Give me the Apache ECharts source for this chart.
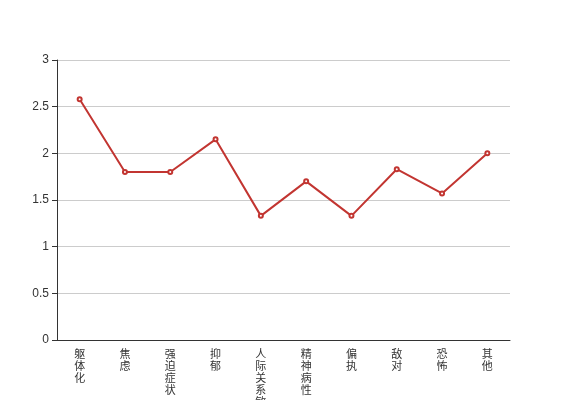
<!DOCTYPE html>
<html><head><meta charset="utf-8">
<script src="https://cdn.jsdelivr.net/npm/echarts@6/dist/echarts.min.js"></script>
<style>html,body{margin:0;padding:0;background:#fff}#c{width:567px;height:400px}</style>
</head><body><div id="c"></div>
<script>
var categories = ['躯体化','焦虑','强迫症状','抑郁','人际关系敏感','精神病性','偏执','敌对','恐怖','其他'];
var values = [2.58, 1.8, 1.8, 2.15, 1.33, 1.7, 1.33, 1.83, 1.57, 2.0];
var yTicks = {min: 0, max: 3, interval: 0.5};

var chart = echarts.init(document.getElementById('c'), null, {renderer: 'canvas'});
chart.setOption({
  animation: false,
  grid: {left: 57, right: 57, top: 60, bottom: 60, containLabel: false, outerBoundsMode: 'none'},
  xAxis: {
    type: 'category',
    data: categories,
    boundaryGap: true,
    axisLine: {lineStyle: {color: '#333', width: 1}},
    axisTick: {lineStyle: {color: '#333'}},
    axisLabel: {
      interval: 0,
      color: '#333',
      fontSize: 11,
      lineHeight: 12,
      margin: 8,
      fontFamily: 'Noto Sans CJK SC',
      formatter: function (v) { return v.split('').join('\n'); }
    },
    splitLine: {show: false}
  },
  yAxis: {
    type: 'value',
    min: yTicks.min, max: yTicks.max, interval: yTicks.interval,
    axisLine: {show: true, lineStyle: {color: '#333', width: 1}},
    axisTick: {show: true, lineStyle: {color: '#333'}},
    axisLabel: {color: '#333', fontSize: 12, fontFamily: 'Liberation Sans'},
    splitLine: {lineStyle: {color: '#ccc'}}
  },
  series: [{
    type: 'line',
    data: values,
    symbol: 'emptyCircle',
    symbolSize: 4,
    itemStyle: {color: '#c23531'},
    lineStyle: {color: '#c23531', width: 2}
  }]
});
</script></body></html>
